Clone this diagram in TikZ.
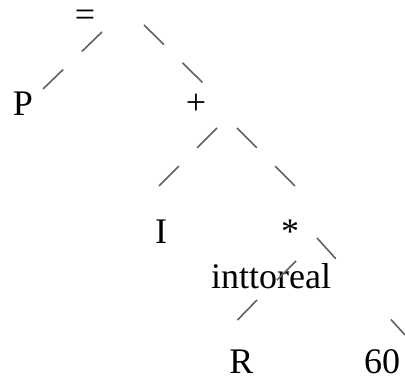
\documentclass[tikz,border=0pt]{standalone}
\usepackage{fontspec}
\setmainfont{Liberation Serif}
\begin{document}
\begin{tikzpicture}[x=1pt,y=-1pt,
  lbl/.style={anchor=base,inner sep=0pt,text height=0.7em,text depth=0pt,
              font=\fontsize{36}{40}\selectfont},
  edge/.style={draw=black!62,line width=1.6pt,dash pattern=on 28pt off 26pt},
  longgap/.style={draw=black!62,line width=1.6pt,dash pattern=on 28pt off 82pt}]
\path[use as bounding box] (0,0) rectangle (405,380);

% tree labels
\node[lbl] (eq)   at (85,27)    {=};
\node[lbl] (P)    at (23,115)   {P};
\node[lbl] (plus) at (196,114)  {+};
\node[lbl] (I)    at (161,243)  {I};
\node[lbl] (star) at (290,243)  {*};
\node[lbl] (itr)  at (271,288)  {inttoreal};
\node[lbl] (R)    at (241.5,373){R};
\node[lbl] (sixty) at (382,373) {60};

% dashed edges
\draw[edge] ([shift={(17,5)}]eq.base)    -- ([shift={(20,-26)}]P.base);
\draw[edge] ([shift={(59,-2)}]eq.base)   -- ([shift={(7,-31)}]plus.base);
\draw[edge] ([shift={(21,14)}]plus.base) -- ([shift={(-2,-57)}]I.base);
\draw[edge] ([shift={(41,14)}]plus.base) -- ([shift={(5,-57)}]star.base);
\draw[edge] ([shift={(6,18)}]star.base)  -- ([shift={(6,-8)}]itr.base);
\draw[edge] ([shift={(-14,12)}]itr.base) -- ([shift={(-5,-52)}]R.base);
\draw[longgap] ([shift={(27,-5)}]star.base) -- ([shift={(23,-38)}]sixty.base);
\end{tikzpicture}
\end{document}
